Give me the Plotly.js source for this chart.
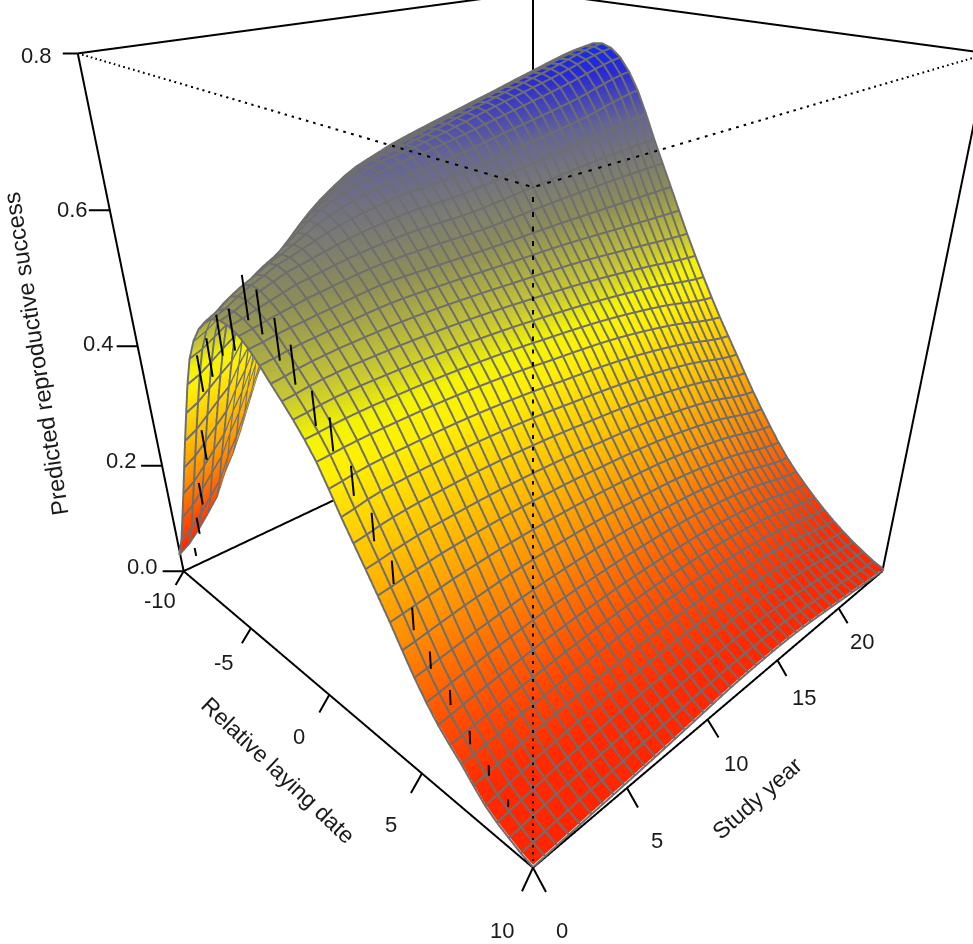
<!DOCTYPE html>
<html><head><meta charset="utf-8">
<script src="https://cdn.plot.ly/plotly-3.0.1.min.js"></script>
<style>html,body{margin:0;padding:0;background:#fff;overflow:hidden;width:973px;height:944px}</style>
</head><body><div id="chart" style="width:1066px;height:944px"></div>
<script>
// value tables (date columns -10..10)
const tableDates = [-10,-9,-8,-7,-6,-5,-4,-3,-2,-1,0,1,2,3,4,5,6,7,8,9,10];
const tableYears = [0,1.5,3,6,9,12,16,20,24];
const year0  = [.034,.125,.232,.338,.435,.490,.516,.519,.502,.470,.437,.396,.337,.282,.225,.164,.115,.080,.042,.020,.005];
const year1p5= [.075,.170,.270,.370,.460,.520,.540,.532,.510,.478,.443,.400,.345,.288,.230,.170,.122,.085,.050,.026,.008];
const year3  = [.145,.235,.325,.415,.495,.545,.560,.545,.516,.483,.446,.402,.348,.292,.235,.176,.128,.092,.058,.032,.011];
const year6  = [.320,.400,.475,.540,.580,.600,.588,.560,.527,.488,.447,.403,.350,.294,.240,.185,.137,.100,.068,.040,.016];
const year9  = [.450,.520,.575,.610,.630,.630,.605,.568,.528,.488,.445,.400,.347,.292,.240,.188,.142,.106,.074,.047,.023];
const year12 = [.520,.580,.620,.640,.650,.645,.612,.570,.528,.485,.440,.393,.340,.286,.236,.187,.143,.109,.078,.052,.030];
const year16 = [.570,.615,.650,.670,.680,.668,.630,.582,.530,.480,.430,.382,.328,.275,.226,.179,.138,.105,.076,.051,.030];
const year20 = [.600,.640,.675,.700,.708,.692,.648,.593,.530,.470,.415,.362,.308,.255,.205,.160,.122,.090,.062,.038,.018];
const year24 = [.620,.660,.700,.725,.735,.718,.672,.600,.530,.460,.395,.335,.280,.225,.175,.130,.095,.065,.040,.020,.005];
const slices = [year0,year1p5,year3,year6,year9,year12,year16,year20,year24];

// observed bars at the near edge
const barDates = [-8.16,-7.48,-6.76,-5.8,-5.17,-4.33,-3.43,-2.6,-1.53,-.84,-.07,.61,1.43,2.18,2.99,3.78,4.55,5.34,6.02,6.83,7.62,8.39,9.17];
const barLow   = [.072,.127,.193,.285,.400,.434,.476,.494,.547,.538,.515,.494,.453,.432,.387,.340,.296,.247,.206,.172,.133,.106,.080];
const barHigh  = [.087,.156,.230,.332,.453,.488,.531,.549,.603,.593,.568,.544,.498,.476,.427,.379,.329,.280,.232,.195,.154,.123,.092];

const xTicks = [-10,-5,0,5,10];
const yTicks = [0,5,10,15,20];
const zTicks = [0,0.2,0.4,0.6,0.8];
const xLabels = ['-10','-5','0','5','10'];
const yLabels = ['0','5','10','15','20'];
const zLabels = ['0.0','0.2','0.4','0.6','0.8'];

const X0=-10,X1=10,Y0=0,Y1=24,Z0=0,Z1=0.8;
const PAD_X=.4,PAD_Y=.48,PAD_Z=.016;   // scene range is 2% wider than the drawn box so nothing on its faces is clipped
const W=1066,H=944,SCENE_H=880;

function cr(p0,p1,p2,p3,t){return 0.5*(2*p1+(p2-p0)*t+(2*p0-5*p1+4*p2-p3)*t*t+(3*p1-p0-3*p2+p3)*t*t*t);}
function at(arr,i){return arr[Math.max(0,Math.min(arr.length-1,i))];}
function sampleDate(row,d){const f=d-X0,k=Math.min(Math.floor(f),row.length-1);return cr(at(row,k-1),at(row,k),at(row,k+1),at(row,k+2),f-k);}
function sampleZ(d,y){
  let k=0;while(k<tableYears.length-2&&y>=tableYears[k+1])k++;
  const t=(y-tableYears[k])/(tableYears[k+1]-tableYears[k]);
  const v=[k-1,k,k+1,k+2].map(i=>sampleDate(at(slices,i),d));
  return Math.max(0,cr(v[0],v[1],v[2],v[3],t));
}
const gx=[],gy=[];for(let i=0;i<=40;i++){gx.push(X0+i*(X1-X0)/40);gy.push(Y0+i*(Y1-Y0)/40);}
const gz=gy.map(y=>gx.map(x=>sampleZ(x,y)));

const colours=[[0,'#ff2400'],[.066,'#ff2a00'],[.132,'#ff4800'],[.263,'#ff8c00'],[.395,'#ffc800'],[.5,'#fff000'],[.55,'#f4f400'],[.60,'#c8c832'],[.70,'#8c8c5a'],[.84,'#646496'],[.93,'#2828d7'],[1,'#0032ff']];

const surface={type:'surface',x:gx,y:gy,z:gz,cmin:0,cmax:.76,colorscale:colours,showscale:false,hoverinfo:'skip',
  lighting:{ambient:1,diffuse:0,specular:0,roughness:1,fresnel:0},
  contours:{x:{highlight:false},y:{highlight:false},z:{highlight:false}}};

// mesh lines sit a hair toward the viewer so both faces of the sheet show them
const DX=.08,DY=-.095,DZ=.0018;
const mx=[],my=[],mz=[];
gx.forEach((x,i)=>{gy.forEach((y,j)=>{mx.push(x+DX);my.push(y+DY);mz.push(gz[j][i]+DZ);});mx.push(null);my.push(null);mz.push(null);});
gy.forEach((y,j)=>{gx.forEach((x,i)=>{mx.push(x+DX);my.push(y+DY);mz.push(gz[j][i]+DZ);});mx.push(null);my.push(null);mz.push(null);});
const mesh={type:'scatter3d',mode:'lines',x:mx,y:my,z:mz,line:{color:'#6e6e6e',width:4},hoverinfo:'skip',showlegend:false};

function segs(list,dash,width){const x=[],y=[],z=[];list.forEach(s=>{s.forEach(p=>{x.push(p[0]);y.push(p[1]);z.push(p[2]);});x.push(null);y.push(null);z.push(null);});
  return {type:'scatter3d',mode:'lines',x,y,z,line:{color:'#000',width:width||4,dash:dash||'solid'},hoverinfo:'skip',showlegend:false};}
const solidBox=segs([
 [[X0,Y0,Z0],[X1,Y0,Z0],[X1,Y1,Z0],[X0,Y1,Z0],[X0,Y0,Z0]],
 [[X0,Y0,Z0],[X0,Y0,Z1]],[[X1,Y1,Z0],[X1,Y1,Z1]],[[X0,Y1,Z0],[X0,Y1,Z1]],
 [[X0,Y0,Z1],[X0,Y1,Z1],[X1,Y1,Z1]]]);
const dashedBox=segs([[[X0,Y0,Z1],[X1,Y0,Z1],[X1,Y1,Z1]],[[X1,Y0,Z0],[X1,Y0,Z1]]],'dot');
const bars=segs(barDates.map((d,i)=>[[d,-.2,barLow[i]],[d,-.2,barHigh[i]]]));

function tick(x,y,z,ax,ay){return {x,y,z,text:' ',showarrow:true,arrowhead:0,arrowwidth:2,arrowcolor:'#000',ax,ay,standoff:0};}
const tickAnn=[];
const xOff=[[-11,19],[-12,20],[-13,23],[-14,25],[-14,30]];
const yOff=[[16,30],[14,25],[14,23],[12,21],[12,20]];
xTicks.forEach((v,i)=>tickAnn.push(tick(v,Y0,Z0,xOff[i][0],xOff[i][1])));
yTicks.forEach((v,i)=>tickAnn.push(tick(X1,v,Z0,yOff[i][0],yOff[i][1])));
zTicks.forEach(v=>tickAnn.push(tick(X0,Y0,v,v===.8?-18:-24,0)));

const font={family:'"Liberation Sans",Arial,sans-serif',size:22,color:'#1a1a1a'};
function label(text,px,py,angle,size){return {text,xref:'paper',yref:'paper',x:px/W,y:1-py/H,xanchor:'center',yanchor:'middle',showarrow:false,borderpad:0,font:size?Object.assign({},font,{size}):font,textangle:angle||0};}
const xLabelPos=[[160,600],[224,662],[299,736],[391,824],[502,930]];
const yLabelPos=[[562,930],[657,840],[736,763],[804,697],[862,641]];
const zLabelPos=[[142,566],[121,460],[98,343],[72,209],[36,55]];
const labels=[];
xLabels.forEach((t,i)=>labels.push(label(t,xLabelPos[i][0],xLabelPos[i][1])));
yLabels.forEach((t,i)=>labels.push(label(t,yLabelPos[i][0],yLabelPos[i][1])));
zLabels.forEach((t,i)=>labels.push(label(t,zLabelPos[i][0],zLabelPos[i][1])));
labels.push(label('Relative laying date',278,770,43.4,23));
labels.push(label('Study year',757,798,-41.5,23));
labels.push(label('Predicted reproductive success',36,354,-98.7,23.5));

const hidden={visible:false,showgrid:false,zeroline:false,showticklabels:false,showspikes:false};
const layout={width:W,height:H,margin:{l:0,r:0,t:0,b:0},paper_bgcolor:'#fff',showlegend:false,annotations:labels,hovermode:false,
 scene:{domain:{x:[0,1],y:[1-SCENE_H/H,1]},bgcolor:'#fff',aspectmode:'manual',aspectratio:{x:1.04,y:1.04,z:1.04},
  xaxis:Object.assign({range:[X0-PAD_X,X1+PAD_X]},hidden),yaxis:Object.assign({range:[Y0-PAD_Y,Y1+PAD_Y]},hidden),zaxis:Object.assign({range:[Z0-PAD_Z,Z1+PAD_Z]},hidden),
  camera:{eye:{x:1.2227,y:-1.2227,z:.805},center:{x:0,y:0,z:-.1934},up:{x:0,y:0,z:1},projection:{type:'perspective'}},
  annotations:tickAnn}};
Plotly.newPlot('chart',[surface,mesh,solidBox,dashedBox,bars],layout,{displayModeBar:false});
</script></body></html>
